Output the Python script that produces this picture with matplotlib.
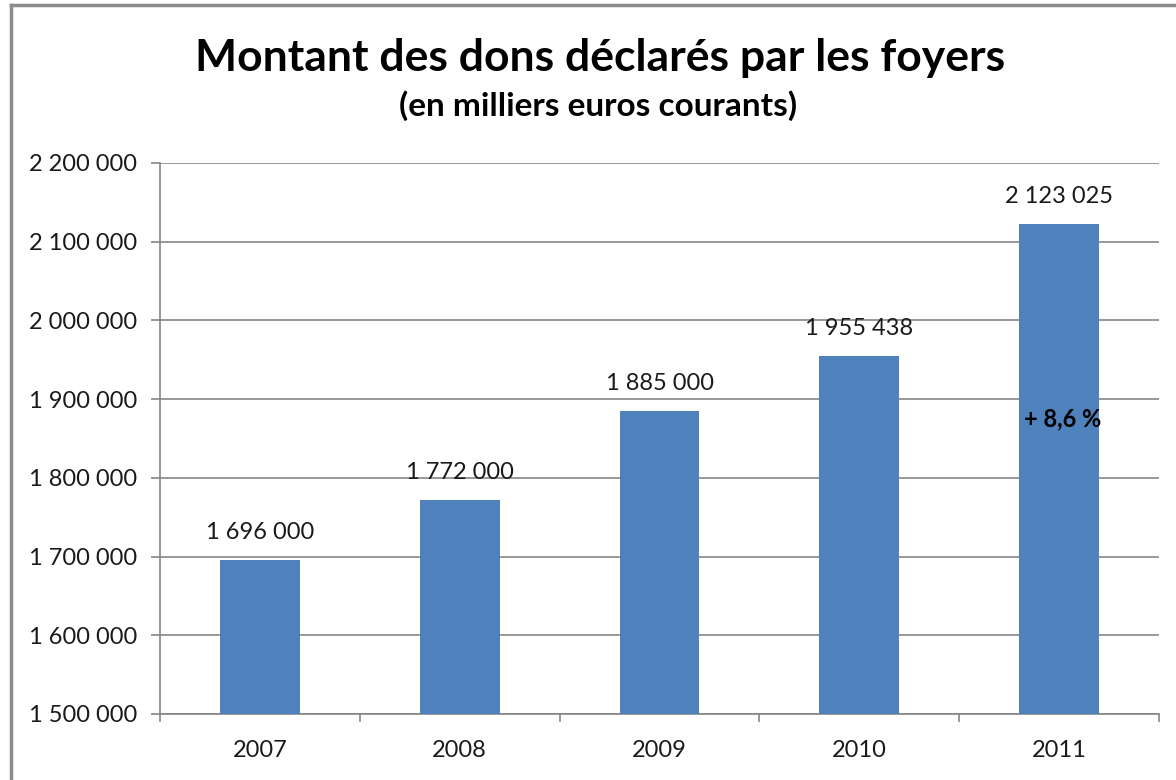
import matplotlib
matplotlib.use("Agg")
from matplotlib import pyplot as plt
import numpy as np

years = ["2007", "2008", "2009", "2010", "2011"]
amounts = [1696000, 1772000, 1885000, 1955438, 2123025]
y_ticks = [1500000, 1600000, 1700000, 1800000, 1900000, 2000000, 2100000, 2200000]
note_text = "+ 8,6 %"
note_value = 1875000


def fr_format(v):
    # french style thousands separator
    return f"{int(v):,}".replace(",", " ")


plt.rcParams["font.family"] = ["Lato", "DejaVu Sans"]

fig = plt.figure(figsize=(11.76, 7.8), dpi=100)
ax = fig.add_axes([160 / 1176, 1 - 714 / 780, 999 / 1176, 551 / 780])

bar_color = "#4F81BD"
grid_color = "#868686"
text_color = "#1a1a1a"

x = np.arange(len(years))
ax.bar(x, amounts, width=0.4, color=bar_color, zorder=3)

ax.set_xlim(-0.5, len(years) - 0.5)
ax.set_ylim(y_ticks[0], y_ticks[-1])
ax.set_yticks(y_ticks)
ax.set_yticklabels([fr_format(v) for v in y_ticks], fontsize=17, color=text_color)
ax.yaxis.grid(True, color=grid_color, linewidth=1.2, zorder=0)

# x ticks at category boundaries, labels at centres
ax.set_xticks(np.arange(len(years) + 1) - 0.5)
ax.set_xticklabels([])
ax.set_xticks(x, minor=True)
ax.set_xticklabels(years, minor=True, fontsize=17, color=text_color)
ax.tick_params(axis="x", which="minor", length=0, pad=19)
ax.tick_params(axis="x", which="major", length=6, color=grid_color, width=1.2)
ax.tick_params(axis="y", length=6.5, color=grid_color, width=1.2, pad=10)

for s in ["top", "right"]:
    ax.spines[s].set_visible(False)
for s in ["left", "bottom"]:
    ax.spines[s].set_color(grid_color)
    ax.spines[s].set_linewidth(1.2)

for xi, v in zip(x, amounts):
    ax.annotate(fr_format(v), (xi, v), xytext=(0, 12), textcoords="offset points",
                ha="center", va="bottom", fontsize=17, color=text_color)

ax.text(x[-1] + 0.02, note_value, note_text, ha="center", va="center",
        fontsize=17, fontweight="bold", color="black", zorder=4)

fig.text(600 / 1176, 1 - 58 / 780, "Montant des dons déclarés par les foyers",
         ha="center", va="center", fontsize=32, fontweight="bold", color="black")
fig.text(598 / 1176, 1 - 106 / 780, "(en milliers euros courants)",
         ha="center", va="center", fontsize=24, fontweight="bold", color="black")

# outer frame (only top and left visible in the crop)
fig.add_artist(plt.Line2D([11 / 1176, 11 / 1176], [0, 1 - 5 / 780],
                          transform=fig.transFigure, color="#8c8c8c", linewidth=2.5))
fig.add_artist(plt.Line2D([11 / 1176, 1], [1 - 5 / 780, 1 - 5 / 780],
                          transform=fig.transFigure, color="#8c8c8c", linewidth=2.5))

fig.savefig("out.png", dpi=100)
